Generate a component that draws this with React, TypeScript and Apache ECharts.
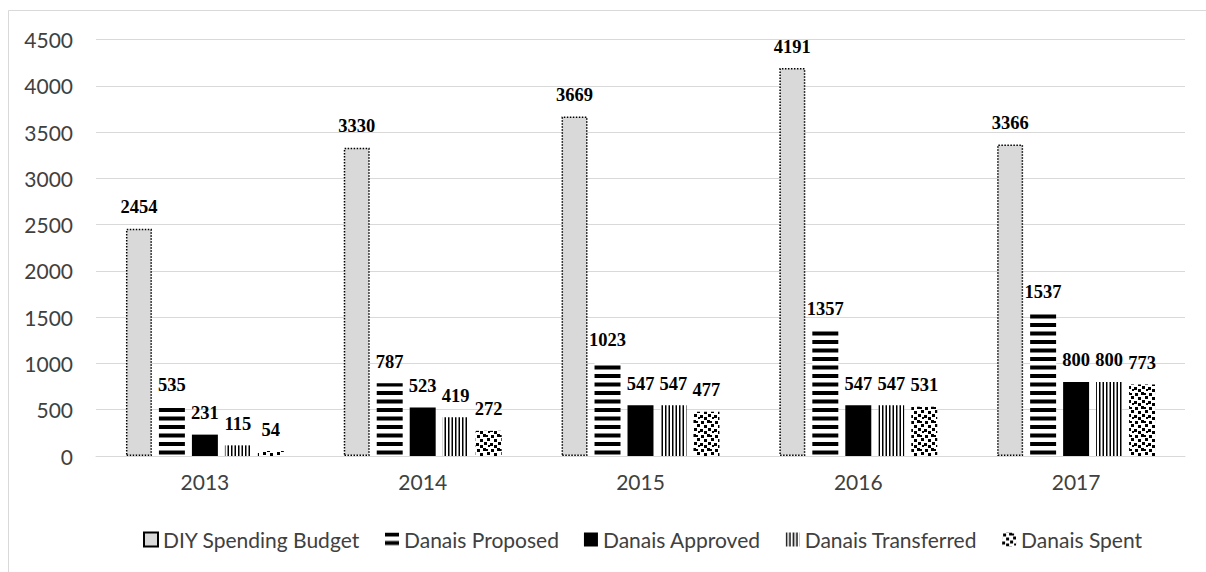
import React, { useEffect, useRef } from "react";
import * as echarts from "echarts";

const categories = ["2013", "2014", "2015", "2016", "2017"];
const seriesNames = [
  "DIY Spending Budget",
  "Danais Proposed",
  "Danais Approved",
  "Danais Transferred",
  "Danais Spent",
];
const diyBudget = [2454, 3330, 3669, 4191, 3366];
const danaisProposed = [535, 787, 1023, 1357, 1537];
const danaisApproved = [231, 523, 547, 547, 800];
const danaisTransferred = [115, 419, 547, 547, 800];
const danaisSpent = [54, 272, 477, 531, 773];
const yTicks = { min: 0, max: 4500, interval: 500 };

function makeTile(w: number, h: number, draw: (ctx: CanvasRenderingContext2D) => void) {
  const c = document.createElement("canvas");
  c.width = w;
  c.height = h;
  const ctx = c.getContext("2d")!;
  ctx.fillStyle = "#ffffff";
  ctx.fillRect(0, 0, w, h);
  ctx.fillStyle = "#000000";
  draw(ctx);
  return c;
}

function pattern(c: HTMLCanvasElement) {
  return { image: c, repeat: "repeat", imageWidth: c.width, imageHeight: c.height } as any;
}

export default function App() {
  const ref = useRef<HTMLDivElement>(null);
  useEffect(() => {
    if (!ref.current) return;
    const chart = echarts.init(ref.current, null, { renderer: "svg" });

    const hStripes = makeTile(4, 17, (ctx) => {
      ctx.fillRect(0, 0, 4, 4);
      ctx.fillRect(0, 8.5, 4, 4);
    });
    const vStripes = makeTile(7, 4, (ctx) => {
      ctx.fillRect(0, 0, 1.5, 4);
      ctx.fillRect(3.5, 0, 1.5, 4);
    });
    const dots = makeTile(14, 14, (ctx) => {
      const sq: [number, number, number][] = [
        [1, 1, 3], [7, 0, 3], [11, 4, 3], [4, 5, 3], [8, 8, 3],
        [0, 9, 3], [12, 11, 2], [4, 11, 3], [10, 1, 2],
      ];
      sq.forEach(([x, y, s]) => ctx.fillRect(x, y, s, s));
    });

    const labelStyle = {
      show: true,
      position: "top",
      distance: 12,
      fontFamily: "Liberation Serif",
      fontWeight: "bold",
      fontSize: 18.5,
      color: "#000",
      formatter: "{c}",
    };

    const styles: any[] = [
      { color: "#d9d9d9", borderColor: "#000", borderType: "dotted", borderWidth: 1.5 },
      { color: pattern(hStripes) },
      { color: "#000" },
      { color: pattern(vStripes) },
      { color: pattern(dots) },
    ];
    const datasets = [diyBudget, danaisProposed, danaisApproved, danaisTransferred, danaisSpent];

    chart.setOption({
      animation: false,
      graphic: [
        {
          type: "rect",
          shape: { x: 8.5, y: 10.5, width: 1400, height: 800 },
          style: { fill: "none", stroke: "#d9d9d9", lineWidth: 1 },
          silent: true,
        },
      ],
      grid: { left: 96, right: 21, top: 39.5, bottom: 116, containLabel: false },
      legend: {
        left: 138,
        top: 524,
        icon: "rect",
        itemWidth: 14,
        itemHeight: 14,
        itemGap: 25,
        textStyle: { fontFamily: "Lato", fontSize: 21, color: "#404040" },
        data: seriesNames,
      },
      xAxis: {
        type: "category",
        data: categories,
        axisLine: { lineStyle: { color: "#d9d9d9", width: 1 } },
        axisTick: { show: false },
        axisLabel: { fontFamily: "Lato", fontSize: 21, color: "#404040", margin: 15 },
      },
      yAxis: {
        type: "value",
        min: yTicks.min,
        max: yTicks.max,
        interval: yTicks.interval,
        axisLine: { show: false },
        axisTick: { show: false },
        splitLine: { lineStyle: { color: "#d9d9d9", width: 1 } },
        axisLabel: {
          fontFamily: "Lato",
          fontSize: 21,
          color: "#404040",
          margin: 23,
          formatter: (v: number) => String(v),
        },
      },
      series: seriesNames.map((name, i) => ({
        name,
        type: "bar",
        data: datasets[i],
        barGap: "27%",
        barCategoryGap: "27.5%",
        itemStyle: styles[i],
        label: labelStyle,
      })),
    });
    return () => chart.dispose();
  }, []);
  return (
    <div
      ref={ref}
      style={{ position: "fixed", left: 0, top: 0, width: 1206, height: 572, background: "#fff" }}
    />
  );
}
